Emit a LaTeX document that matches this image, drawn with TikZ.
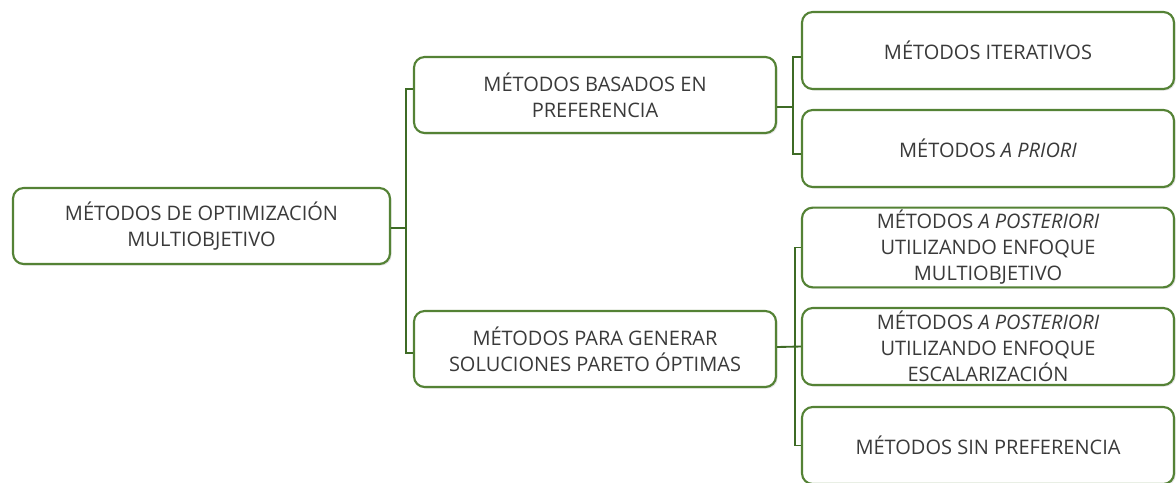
\documentclass[tikz,border=0pt]{standalone}
\usepackage{fontspec}
\setmainfont{Open Sans}
\usetikzlibrary{shadows}
\definecolor{bordergreen}{HTML}{548235}
\definecolor{linegreen}{HTML}{3E6B25}
\definecolor{txt}{HTML}{3A3A3A}
\tikzset{
  box/.style={draw=bordergreen, line width=1.6pt, rounded corners=8pt, fill=white,
    text=txt, align=center, font=\fontsize{15}{19.5}\selectfont, inner sep=2pt,
    drop shadow={opacity=0.22, shadow xshift=1.2pt, shadow yshift=-1.2pt}},
  conn/.style={draw=linegreen, line width=1.4pt}
}
\begin{document}
\begin{tikzpicture}[x=0.75pt,y=-0.75pt]
\useasboundingbox (0,0) rectangle (1176,482);
\node[box, minimum width=377*0.75pt, minimum height=76*0.75pt] (root) at (201.5,226) {MÉTODOS DE OPTIMIZACIÓN\\MULTIOBJETIVO};
\node[box, minimum width=362*0.75pt, minimum height=76*0.75pt] (bas) at (595,95) {MÉTODOS BASADOS EN\\PREFERENCIA};
\node[box, minimum width=362*0.75pt, minimum height=76*0.75pt] (gen) at (595,349) {MÉTODOS PARA GENERAR\\SOLUCIONES PARETO ÓPTIMAS};
\node[box, minimum width=372*0.75pt, minimum height=77*0.75pt] (iter) at (988,50.5) {MÉTODOS ITERATIVOS};
\node[box, minimum width=372*0.75pt, minimum height=77*0.75pt] (pri) at (988,148.5) {MÉTODOS \textit{A PRIORI}};
\node[box, minimum width=372*0.75pt, minimum height=79*0.75pt] (post1) at (988,247.5) {MÉTODOS \textit{A POSTERIORI}\\UTILIZANDO ENFOQUE\\MULTIOBJETIVO};
\node[box, minimum width=372*0.75pt, minimum height=77*0.75pt] (post2) at (988,346.5) {MÉTODOS \textit{A POSTERIORI}\\UTILIZANDO ENFOQUE\\ESCALARIZACIÓN};
\node[box, minimum width=372*0.75pt, minimum height=77*0.75pt] (sin) at (988,445.5) {MÉTODOS SIN PREFERENCIA};
% left bracket
\coordinate (lb) at (406,228);
\draw[conn] ([yshift=4.5pt]bas.west) -| (lb) |- ([yshift=-3pt]gen.west);
\draw[conn] (root.east |- lb) -- (lb);
% top right bracket
\coordinate (tb) at (793,107);
\draw[conn] ([yshift=-4.9pt]iter.west) -| (tb) |- ([yshift=-4pt]pri.west);
\draw[conn] (bas.east |- tb) -- (tb);
% bottom right bracket
\coordinate (bb) at (795,347);
\draw[conn] (post1.west) -| (bb) |- (sin.west);
\draw[conn] (gen.east |- bb) -- (post2.west);
\end{tikzpicture}
\end{document}
